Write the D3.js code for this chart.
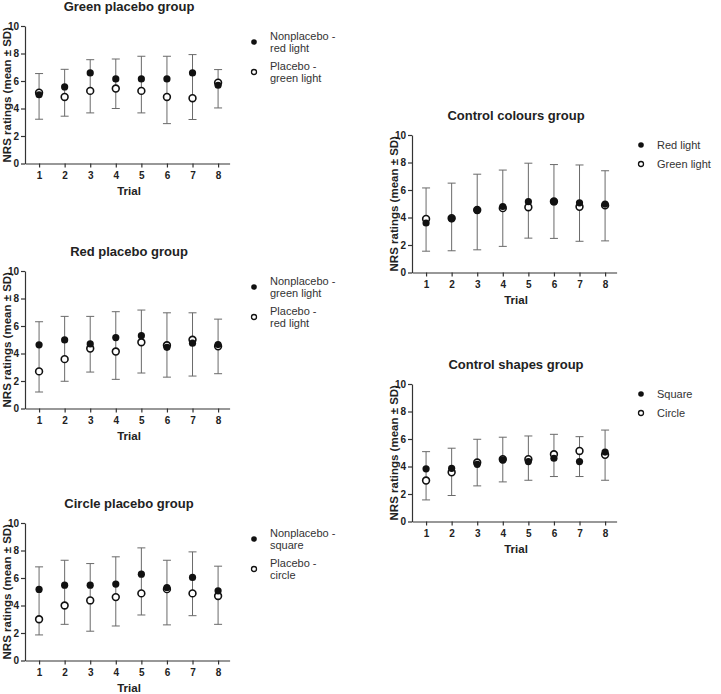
<!DOCTYPE html>
<html>
<head>
<meta charset="utf-8">
<script src="https://cdn.jsdelivr.net/npm/d3@7"></script>
<style>
  html, body { margin: 0; padding: 0; background: #fff; }
  svg { display: block; font-family: "Liberation Sans", Arial, sans-serif; }
</style>
</head>
<body>
<svg id="chart" width="721" height="694"></svg>
<script>
// ---------- DATA ----------
const trials = [1, 2, 3, 4, 5, 6, 7, 8];
const yTicks = [0, 2, 4, 6, 8, 10];
const yLabel = "NRS ratings (mean \u00b1 SD)";
const xLabel = "Trial";

// Green placebo group
const greenTitle = "Green placebo group";
const greenLegend = [["Nonplacebo -", "red light"], ["Placebo -", "green light"]];
const greenNonplaceboMean = [5.00, 5.57, 6.59, 6.15, 6.15, 6.15, 6.59, 5.69];
const greenNonplaceboSD   = [1.54, 1.28, 0.96, 1.45, 1.65, 1.65, 1.33, 1.14];
const greenPlaceboMean    = [5.15, 4.84, 5.28, 5.45, 5.28, 4.84, 4.75, 5.88];
const greenPlaceboSD      = [1.93, 1.40, 1.60, 1.45, 1.60, 1.94, 1.55, 1.84];

// Red placebo group
const redTitle = "Red placebo group";
const redLegend = [["Nonplacebo -", "green light"], ["Placebo -", "red light"]];
const redNonplaceboMean = [4.63, 4.99, 4.70, 5.16, 5.30, 4.45, 4.75, 4.65];
const redNonplaceboSD   = [1.68, 1.71, 2.00, 1.88, 1.86, 2.51, 2.21, 1.85];
const redPlaceboMean    = [2.70, 3.59, 4.36, 4.14, 4.82, 4.60, 5.00, 4.52];
const redPlaceboSD      = [1.50, 1.61, 1.71, 2.02, 2.24, 2.32, 2.64, 1.99];

// Circle placebo group
const circleTitle = "Circle placebo group";
const circleLegend = [["Nonplacebo -", "square"], ["Placebo -", "circle"]];
const circleNonplaceboMean = [5.17, 5.48, 5.48, 5.56, 6.28, 5.31, 6.04, 5.07];
const circleNonplaceboSD   = [1.64, 1.81, 1.57, 1.98, 1.91, 1.98, 1.86, 1.79];
const circlePlaceboMean    = [3.00, 4.00, 4.37, 4.61, 4.88, 5.19, 4.88, 4.69];
const circlePlaceboSD      = [1.14, 1.37, 2.24, 2.10, 1.57, 2.60, 1.62, 2.06];

// Control colours group
const coloursTitle = "Control colours group";
const coloursLegend = [["Red light"], ["Green light"]];
const coloursRedMean   = [3.60, 3.92, 4.52, 4.80, 5.15, 5.15, 5.07, 4.98];
const coloursRedSD     = [2.55, 2.58, 2.63, 2.65, 2.80, 2.70, 2.75, 2.42];
const coloursGreenMean = [3.90, 3.95, 4.55, 4.68, 4.75, 5.17, 4.78, 4.88];
const coloursGreenSD   = [2.35, 2.37, 2.90, 2.78, 2.25, 2.69, 2.51, 2.58];

// Control shapes group
const shapesTitle = "Control shapes group";
const shapesLegend = [["Square"], ["Circle"]];
const shapesSquareMean = [3.83, 3.87, 4.16, 4.48, 4.36, 4.60, 4.36, 5.05];
const shapesSquareSD   = [1.25, 1.46, 1.82, 1.65, 1.86, 1.74, 1.81, 1.60];
const shapesCircleMean = [2.98, 3.58, 4.29, 4.53, 4.53, 4.89, 5.13, 4.85];
const shapesCircleSD   = [1.41, 1.69, 1.70, 1.65, 1.53, 1.62, 1.86, 1.85];

// ---------- LAYOUT ----------
const panels = [
  { ox: 25,  oy: 26,    title: greenTitle,   legend: greenLegend,   fm: greenNonplaceboMean,  fs: greenNonplaceboSD,  om: greenPlaceboMean,  os: greenPlaceboSD },
  { ox: 25,  oy: 271,   title: redTitle,     legend: redLegend,     fm: redNonplaceboMean,    fs: redNonplaceboSD,    om: redPlaceboMean,    os: redPlaceboSD },
  { ox: 25,  oy: 523,   title: circleTitle,  legend: circleLegend,  fm: circleNonplaceboMean, fs: circleNonplaceboSD, om: circlePlaceboMean, os: circlePlaceboSD },
  { ox: 412, oy: 135,   title: coloursTitle, legend: coloursLegend, fm: coloursRedMean,       fs: coloursRedSD,       om: coloursGreenMean,  os: coloursGreenSD },
  { ox: 412, oy: 384,   title: shapesTitle,  legend: shapesLegend,  fm: shapesSquareMean,     fs: shapesSquareSD,     om: shapesCircleMean,  os: shapesCircleSD }
];

const W = 204.6, H = 137.5;
const axisColor = "#333";
const barColor = "#6a6a6a";
const markColor = "#111";

const svg = d3.select("#chart");

panels.forEach(p => {
  const g = svg.append("g").attr("transform", `translate(${p.ox},${p.oy})`);
  const x = d3.scaleLinear().domain([0.45, 8.45]).range([0, W]);
  const y = d3.scaleLinear().domain([0, 10]).range([H, 0]);

  // title
  g.append("text").attr("x", 104).attr("y", -15)
    .attr("text-anchor", "middle").attr("font-size", 13).attr("font-weight", "bold")
    .attr("fill", "#222").text(p.title);

  // axes
  const yAxis = d3.axisLeft(y).tickValues(yTicks).tickSize(4).tickSizeOuter(0).tickPadding(2);
  const yg = g.append("g").call(yAxis);
  const xAxis = d3.axisBottom(x).tickValues(trials).tickSize(4).tickSizeOuter(0).tickPadding(4);
  const xg = g.append("g").attr("transform", `translate(0,${H})`).call(xAxis);
  [yg, xg].forEach(a => {
    a.selectAll("path,line").attr("stroke", axisColor).attr("stroke-width", 1.2);
    a.selectAll("text").attr("font-size", 10).attr("font-weight", "bold").attr("fill", "#222")
      .attr("font-family", '"Liberation Sans", Arial, sans-serif');
  });

  // axis labels
  g.append("text").attr("transform", `translate(-14.5,${H / 2}) rotate(-90)`)
    .attr("text-anchor", "middle").attr("font-size", 11.5).attr("font-weight", "bold")
    .attr("fill", "#222").text(yLabel);
  g.append("text").attr("x", 104).attr("y", H + 31)
    .attr("text-anchor", "middle").attr("font-size", 11.5).attr("font-weight", "bold")
    .attr("fill", "#222").text(xLabel);

  // error bars
  const rows = trials.map((t, i) => ({ t, fm: p.fm[i], fs: p.fs[i], om: p.om[i], os: p.os[i] }));
  const eb = g.append("g").attr("stroke", barColor).attr("stroke-width", 1);
  rows.forEach(r => {
    const cx = x(r.t);
    const hi = r.fm + r.fs, lo = r.om - r.os;
    eb.append("line").attr("x1", cx).attr("x2", cx).attr("y1", y(hi)).attr("y2", y(lo));
    eb.append("line").attr("x1", cx - 4).attr("x2", cx + 4).attr("y1", y(hi)).attr("y2", y(hi));
    eb.append("line").attr("x1", cx - 4).attr("x2", cx + 4).attr("y1", y(lo)).attr("y2", y(lo));
  });

  // open markers (placebo / second series)
  g.append("g").selectAll("circle").data(rows).join("circle")
    .attr("cx", d => x(d.t)).attr("cy", d => y(d.om)).attr("r", 3.4)
    .attr("fill", "#fff").attr("stroke", markColor).attr("stroke-width", 1.6);
  // filled markers
  g.append("g").selectAll("circle").data(rows).join("circle")
    .attr("cx", d => x(d.t)).attr("cy", d => y(d.fm)).attr("r", 3.6)
    .attr("fill", markColor);

  // legend
  const lg = g.append("g").attr("transform", `translate(229,0)`);
  const twoLine = p.legend[0].length > 1;
  const dotY = twoLine ? [16, 46] : [10, 29];
  p.legend.forEach((lines, k) => {
    const cy = dotY[k];
    if (k === 0) lg.append("circle").attr("cx", 0).attr("cy", cy).attr("r", 2.8).attr("fill", markColor);
    else lg.append("circle").attr("cx", 0).attr("cy", cy).attr("r", 2.5).attr("fill", "#fff")
      .attr("stroke", markColor).attr("stroke-width", 1.3);
    const t = lg.append("text").attr("x", 16).attr("font-size", 11).attr("fill", "#333");
    if (twoLine) {
      lines.forEach((s, j) => t.append("tspan").attr("x", 16).attr("y", cy - 2 + j * 12).text(s));
    } else {
      t.attr("y", cy + 3.8).text(lines[0]);
    }
  });
});
</script>
</body>
</html>
